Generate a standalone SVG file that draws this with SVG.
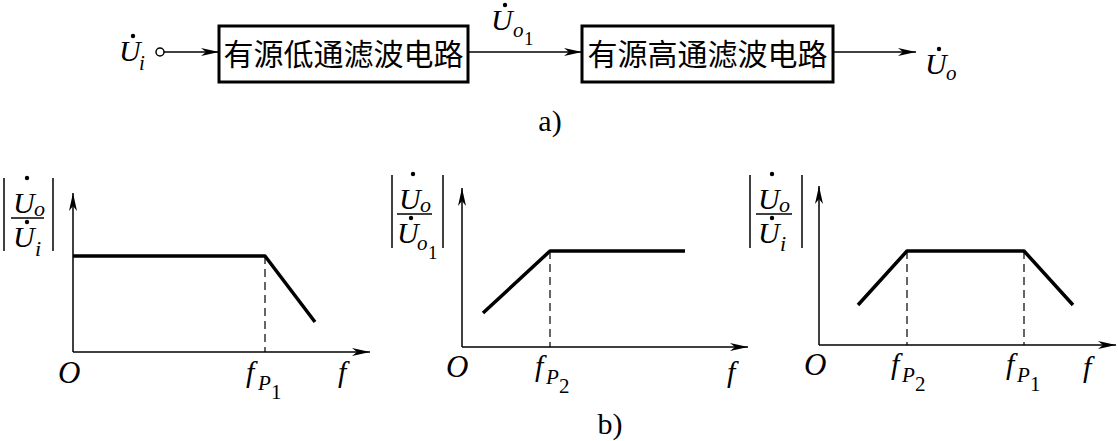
<svg xmlns="http://www.w3.org/2000/svg" width="1118" height="441" viewBox="0 0 1118 441">
<style>
.m{font-family:"Liberation Serif","Times New Roman","DejaVu Serif",serif;font-style:italic;fill:#000}
.n{font-family:"Liberation Serif","Times New Roman","DejaVu Serif",serif;fill:#000}
.cn{font-family:"Noto Sans CJK SC","Noto Sans",sans-serif;font-size:30px;fill:#000}
.ax{stroke:#000;stroke-width:1.5;fill:none}
.cv{stroke:#000;stroke-width:3.5;fill:none;stroke-linejoin:round}
.ds{stroke:#000;stroke-width:1.2;fill:none;stroke-dasharray:8,5}
.bx{stroke:#000;stroke-width:3;fill:#fff}
.ln{stroke:#000;stroke-width:1.5;fill:none}
</style>
<defs>
<marker id="ar" viewBox="0 0 18 8" refX="18" refY="4" markerWidth="18" markerHeight="8" markerUnits="userSpaceOnUse" orient="auto">
<path d="M0,0 L18,4 L0,8 L5,4 Z" fill="#000"/>
</marker>
</defs>

<g id="connectors">
<circle cx="160" cy="52" r="4" class="ln" fill="#fff"/>
<line x1="164" y1="52" x2="219" y2="52" class="ln" marker-end="url(#ar)"/>
<line x1="468" y1="52" x2="582" y2="52" class="ln" marker-end="url(#ar)"/>
<line x1="833" y1="52" x2="916" y2="52" class="ln" marker-end="url(#ar)"/>
</g>

<g id="lpf">
<rect x="219" y="26" width="249" height="56" class="bx"/>
<text x="343.5" y="65" text-anchor="middle" class="cn">有源低通滤波电路</text>
</g>
<g id="hpf">
<rect x="582" y="26" width="251" height="56" class="bx"/>
<text x="707.5" y="65" text-anchor="middle" class="cn">有源高通滤波电路</text>
</g>

<g id="labels-a">
<text x="119" y="61" class="m" font-size="30">U</text><circle cx="133" cy="36" r="2.2"/>
<text x="139" y="70" class="m" font-size="21">i</text>
<text x="491" y="30" class="m" font-size="30">U</text><circle cx="505" cy="5" r="2.2"/>
<text x="513" y="37" class="m" font-size="21">o</text>
<text x="524" y="45" class="n" font-size="19">1</text>
<text x="925" y="74" class="m" font-size="30">U</text><circle cx="939" cy="49" r="2.2"/>
<text x="946" y="80" class="m" font-size="21">o</text>
<text x="550" y="131" text-anchor="middle" class="n" font-size="30">a)</text>
</g>

<g id="graph1">
<line x1="73" y1="352" x2="73" y2="193" class="ax" marker-end="url(#ar)"/>
<line x1="73" y1="352" x2="370" y2="352" class="ax" marker-end="url(#ar)"/>
<polyline points="73,256 265,256 315,322" class="cv"/>
<line x1="265" y1="256" x2="265" y2="352" class="ds"/>
<line x1="4" y1="178" x2="4" y2="251" class="ln"/>
<line x1="53" y1="178" x2="53" y2="251" class="ln"/>
<text x="13" y="213" class="m" font-size="30">U</text><circle cx="27" cy="178" r="2.2"/>
<text x="34" y="216" class="m" font-size="22">o</text>
<line x1="11" y1="218" x2="44" y2="218" class="ln"/>
<text x="13" y="247" class="m" font-size="30">U</text><circle cx="27" cy="222" r="2.2"/>
<text x="35" y="256" class="m" font-size="22">i</text>
<text x="58" y="383" class="m" font-size="31">O</text>
<text x="246" y="382" class="m" font-size="30">f</text>
<text x="258" y="390" class="m" font-size="21">P</text>
<text x="271" y="399" class="n" font-size="21">1</text>
<text x="338" y="382" class="m" font-size="30">f</text>
</g>

<g id="graph2">
<line x1="462" y1="347" x2="462" y2="188" class="ax" marker-end="url(#ar)"/>
<line x1="462" y1="347" x2="748" y2="347" class="ax" marker-end="url(#ar)"/>
<polyline points="483,313 550,251 685,251" class="cv"/>
<line x1="550" y1="251" x2="550" y2="347" class="ds"/>
<line x1="392" y1="175" x2="392" y2="248" class="ln"/>
<line x1="443" y1="175" x2="443" y2="248" class="ln"/>
<text x="399" y="209" class="m" font-size="30">U</text><circle cx="413" cy="174" r="2.2"/>
<text x="420" y="212" class="m" font-size="22">o</text>
<line x1="397" y1="214" x2="432" y2="214" class="ln"/>
<text x="397" y="243" class="m" font-size="30">U</text><circle cx="411" cy="218" r="2.2"/>
<text x="417" y="250" class="m" font-size="21">o</text>
<text x="428" y="259" class="n" font-size="19">1</text>
<text x="446" y="377" class="m" font-size="31">O</text>
<text x="535" y="376" class="m" font-size="30">f</text>
<text x="546" y="384" class="m" font-size="21">P</text>
<text x="559" y="393" class="n" font-size="21">2</text>
<text x="727" y="382" class="m" font-size="30">f</text>
</g>

<g id="graph3">
<line x1="819" y1="345" x2="819" y2="186" class="ax" marker-end="url(#ar)"/>
<line x1="819" y1="345" x2="1116" y2="345" class="ax" marker-end="url(#ar)"/>
<polyline points="858,305 907,251 1024,251 1073,305" class="cv"/>
<line x1="907" y1="251" x2="907" y2="345" class="ds"/>
<line x1="1024" y1="251" x2="1024" y2="345" class="ds"/>
<line x1="750" y1="175" x2="750" y2="248" class="ln"/>
<line x1="802" y1="175" x2="802" y2="248" class="ln"/>
<text x="758" y="209" class="m" font-size="30">U</text><circle cx="772" cy="174" r="2.2"/>
<text x="779" y="212" class="m" font-size="22">o</text>
<line x1="756" y1="214" x2="792" y2="214" class="ln"/>
<text x="758" y="243" class="m" font-size="30">U</text><circle cx="772" cy="218" r="2.2"/>
<text x="780" y="251" class="m" font-size="22">i</text>
<text x="804" y="375" class="m" font-size="31">O</text>
<text x="891" y="374" class="m" font-size="30">f</text>
<text x="902" y="382" class="m" font-size="21">P</text>
<text x="915" y="391" class="n" font-size="21">2</text>
<text x="1006" y="374" class="m" font-size="30">f</text>
<text x="1017" y="382" class="m" font-size="21">P</text>
<text x="1030" y="391" class="n" font-size="21">1</text>
<text x="1083" y="377" class="m" font-size="30">f</text>
<text x="610" y="434" text-anchor="middle" class="n" font-size="30">b)</text>
</g>
</svg>
